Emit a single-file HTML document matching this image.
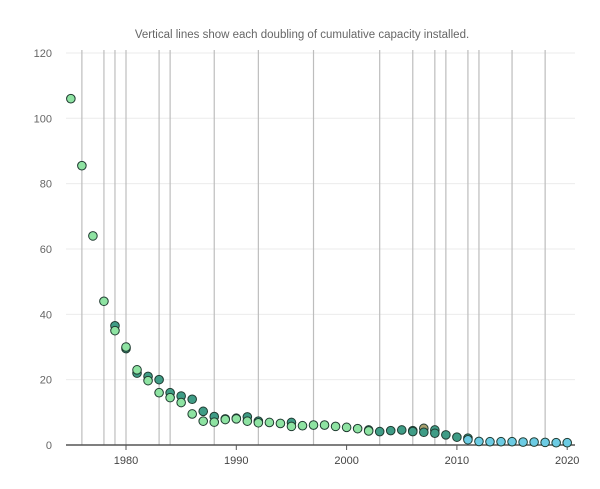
<!DOCTYPE html>
<html><head><meta charset="utf-8"><style>
body{margin:0;background:#fff;font-family:"Liberation Sans",sans-serif}
svg text{font-family:"Liberation Sans",sans-serif}
</style></head><body>
<svg id="chart" width="600" height="484">
<text x="302" y="38" text-anchor="middle" font-size="11.5" fill="#666">Vertical lines show each doubling of cumulative capacity installed.</text>
<g id="grid"></g><g id="vlines"></g><g id="axes"></g><g id="dots"></g>
</svg>
<script>
const yTicks=[0,20,40,60,80,100,120];
const xTicks=[1980,1990,2000,2010,2020];
const doublingYears=[1976,1978,1979,1980,1983,1984,1988,1992,1997,2003,2006,2008,2009,2011,2012,2015,2018];
const years=[1975,1976,1977,1978,1979,1979,1980,1980,1981,1981,1982,1982,1983,1983,1984,1984,1985,1985,1986,1986,1987,1987,1988,1988,1989,1989,1990,1990,1991,1991,1992,1992,1993,1994,1995,1995,1996,1997,1998,1999,2000,2001,2002,2002,2003,2004,2005,2006,2006,2007,2007,2008,2008,2009,2010,2011,2011,2012,2013,2014,2015,2016,2017,2018,2019,2020];
const prices=[106,85.5,64,44,36.5,35,29.5,30,22,23,21,19.7,20,16,16,14.5,15,13,14,9.5,10.3,7.3,8.7,7,8,7.8,8.2,8,8.6,7.3,7.3,6.8,6.9,6.6,6.9,5.7,5.9,6.1,6.1,5.7,5.4,5,4.6,4.3,4.1,4.4,4.6,4.4,4.1,5.1,3.9,4.6,3.6,3.1,2.4,2.1,1.6,1.1,1.0,1.0,1.0,0.9,0.9,0.8,0.7,0.7];
const groups=["g","g","g","g","d","g","d","g","d","g","d","g","d","g","d","g","d","g","d","g","d","g","d","g","d","g","d","g","d","g","d","g","g","g","d","g","g","g","g","g","g","g","d","g","d","d","d","d","d","o","d","d","d","d","d","d","b","b","b","b","b","b","b","b","b","b"];
const colors={g:"#8ee3a2",d:"#3f9c86",b:"#6ccbe3",o:"#a9a070"};
const NS="http://www.w3.org/2000/svg";
const X=y=>126+(y-1980)*11.03, Y=v=>445-v*3.267;
function mk(p,t,a){const e=document.createElementNS(NS,t);for(const k in a)e.setAttribute(k,a[k]);document.getElementById(p).appendChild(e);return e;}
yTicks.forEach(t=>{
 if(t>0){const l=mk("grid","line",{x1:66,x2:575,y1:Y(t),y2:Y(t),stroke:"#ebebeb"});
 
 }
 const tx=mk("grid","text",{x:52,y:Y(t)+4,"text-anchor":"end","font-size":11,fill:"#666"});tx.textContent=t;
 
 
});
doublingYears.forEach(y=>{const l=mk("vlines","line",{x1:X(y),x2:X(y),y1:50,y2:445,stroke:"#bdbdbd","stroke-width":1.2});
 
 });
const ax=mk("axes","line",{x1:66,x2:575,y1:445,y2:445,stroke:"#555","stroke-width":1.5});


xTicks.forEach(t=>{const tk=mk("axes","line",{x1:X(t),x2:X(t),y1:445,y2:450,stroke:"#555"});
 
 
 const tx=mk("axes","text",{x:X(t),y:464,"text-anchor":"middle","font-size":11,fill:"#444"});tx.textContent=t;
 
 });
years.forEach((y,i)=>{const c=mk("dots","circle",{cx:X(y),cy:Y(prices[i]),r:4.3,fill:colors[groups[i]],stroke:"#1f3a30","stroke-width":1});
 
 });
</script>
</body></html>
